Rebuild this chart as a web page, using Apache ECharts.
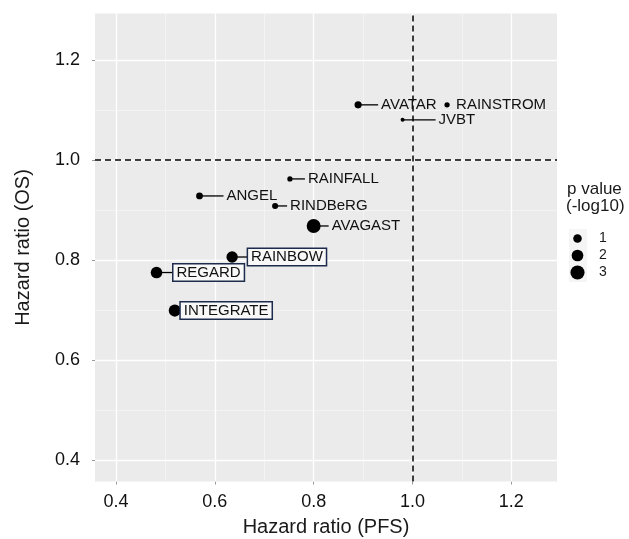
<!DOCTYPE html>
<html><head><meta charset="utf-8">
<script src="https://cdn.jsdelivr.net/npm/echarts@6/dist/echarts.min.js"></script>
<style>html,body{margin:0;padding:0;background:#fff}#c{width:629px;height:539px}</style>
</head><body><div id="c"></div>
<script>
// ---- data ----
const trials = ['AVATAR','RAINSTROM','JVBT','RAINFALL','ANGEL','RINDBeRG','AVAGAST','RAINBOW','REGARD','INTEGRATE'];
const hrPFS  = [0.89, 1.07, 0.98, 0.752, 0.569, 0.722, 0.80, 0.635, 0.482, 0.519];
const hrOS   = [1.11, 1.11, 1.08, 0.962, 0.928, 0.908, 0.868, 0.806, 0.775, 0.699];
const pLog10 = [0.7, 0.3, 0.1, 0.3, 0.6, 0.45, 3.1, 2.0, 2.1, 2.3];
const boxed = ['RAINBOW','REGARD','INTEGRATE'];
const majorTicks = [0.4, 0.6, 0.8, 1.0, 1.2];
const minorTicks = [0.5, 0.7, 0.9, 1.1];
const tickLabels = ['0.4','0.6','0.8','1.0','1.2'];
const legendValues = [1, 2, 3];
const refLine = 1.0;
const axisMin = 0.3575, axisMax = 1.2925;

// ---- style ----
const FONT = '"Liberation Sans", Arial, Helvetica, sans-serif';
const labelDx = {AVATAR:23, RAINSTROM:9, JVBT:36, RAINFALL:18, ANGEL:27, RINDBeRG:15, AVAGAST:18, RAINBOW:16, REGARD:17, INTEGRATE:6};
const noLine = ['RAINSTROM','INTEGRATE'];
const sizeOf = v => Math.sqrt(10 + 59.5 * v);

const GRID = {left:95, top:13.5, width:462, height:468};

const chart = echarts.init(document.getElementById('c'), null, {renderer:'canvas'});

const tickFmt = v => { const i = majorTicks.findIndex(t => Math.abs(t - v) < 1e-6); return i >= 0 ? tickLabels[i] : ''; };

function axis(name, gap, isY) {
  return {
    type:'value', min:axisMin, max:axisMax,
    name:name, nameLocation:'middle', nameGap:gap,
    nameTextStyle:{fontFamily:FONT, fontSize:20, color:'#1a1a1a'},
    axisLine:{show:false},
    axisTick:{show:true, length:3, lineStyle:{color:'#999', width:1}, customValues:majorTicks},
    axisLabel:{show:true, customValues:majorTicks, formatter:tickFmt, fontFamily:FONT, fontSize:18, color:'#111', margin: isY ? 15 : 12},
    splitLine:{show:false}
  };
}

const data = trials.map((t, i) => {
  const item = {name:t, value:[hrPFS[i], hrOS[i], pLog10[i]]};
  if (boxed.includes(t)) {
    item.label = {backgroundColor:'#f8f8f8', borderColor:'#1d2b4c', borderWidth:1.5, padding:[1,3,0,3]};
  }
  return item;
});

const gridLines = [];
minorTicks.forEach(v => { gridLines.push({xAxis:v, lineStyle:{color:'#f7f7f7', width:0.7, type:'solid'}}); gridLines.push({yAxis:v, lineStyle:{color:'#f7f7f7', width:0.7, type:'solid'}}); });
majorTicks.forEach(v => { gridLines.push({xAxis:v, lineStyle:{color:'#ffffff', width:1.3, type:'solid'}}); gridLines.push({yAxis:v, lineStyle:{color:'#ffffff', width:1.3, type:'solid'}}); });

const graphics = [
  {type:'text', left:567, top:181, style:{text:'p value', font:'17px ' + FONT, fill:'#1a1a1a'}},
  {type:'text', left:566, top:198, style:{text:'(-log10)', font:'17px ' + FONT, fill:'#1a1a1a'}},
  {type:'rect', shape:{x:569, y:229, width:18, height:53}, style:{fill:'#f5f5f5'}}
];
legendValues.forEach((v, i) => {
  const cy = 238.5 + i * 17;
  graphics.push({type:'circle', shape:{cx:577.5, cy:cy, r:sizeOf(v) / 2 * 1.03}, style:{fill:'#000'}});
  graphics.push({type:'text', x:599, y:cy, style:{text:String(v), font:'14px ' + FONT, fill:'#1a1a1a', verticalAlign:'middle'}});
});

chart.setOption({
  animation:false,
  grid:{left:GRID.left, top:GRID.top, width:GRID.width, height:GRID.height, show:true, backgroundColor:'#ebebeb', borderWidth:0, containLabel:false, outerBoundsMode:'none'},
  xAxis: axis('Hazard ratio (PFS)', 36, false),
  yAxis: axis('Hazard ratio (OS)', 62, true),
  graphic: graphics,
  series:[
    {type:'scatter', data:[], z:1, silent:true,
     markLine:{z:1, silent:true, symbol:'none', animation:false, label:{show:false}, data:gridLines}},
    {type:'scatter', data:[], z:2, silent:true,
     markLine:{z:2, silent:true, symbol:'none', animation:false, label:{show:false},
       lineStyle:{color:'#000', width:1.5, type:[6,4]},
       data:[{xAxis:refLine}, {yAxis:refLine}]}},
    {type:'custom', z:3, silent:true,
     data: trials.map((t, i) => [hrPFS[i], hrOS[i], i]),
     renderItem: function (params, api) {
       const name = trials[api.value(2)];
       if (noLine.includes(name)) return {type:'group', children:[]};
       const p = api.coord([api.value(0), api.value(1)]);
       const gap = boxed.includes(name) ? 0 : 3;
       return {type:'line', shape:{x1:p[0], y1:p[1], x2:p[0] + labelDx[name] - gap, y2:p[1]},
               style:{stroke:'#000', lineWidth:1.3}};
     }},
    {type:'scatter', z:4, data:data,
     symbolSize: val => sizeOf(val[2]),
     itemStyle:{color:'#000', opacity:1},
     label:{show:true, position:'right', formatter:'{b}', fontFamily:FONT, fontSize:15, color:'#111', lineHeight:15},
     labelLayout: function (p) {
       const name = trials[p.dataIndex];
       const r = p.rect;
       return {x: r.x + r.width / 2 + labelDx[name], y: r.y + r.height / 2, align:'left', verticalAlign:'middle'};
     }
    }
  ]
});
</script></body></html>
